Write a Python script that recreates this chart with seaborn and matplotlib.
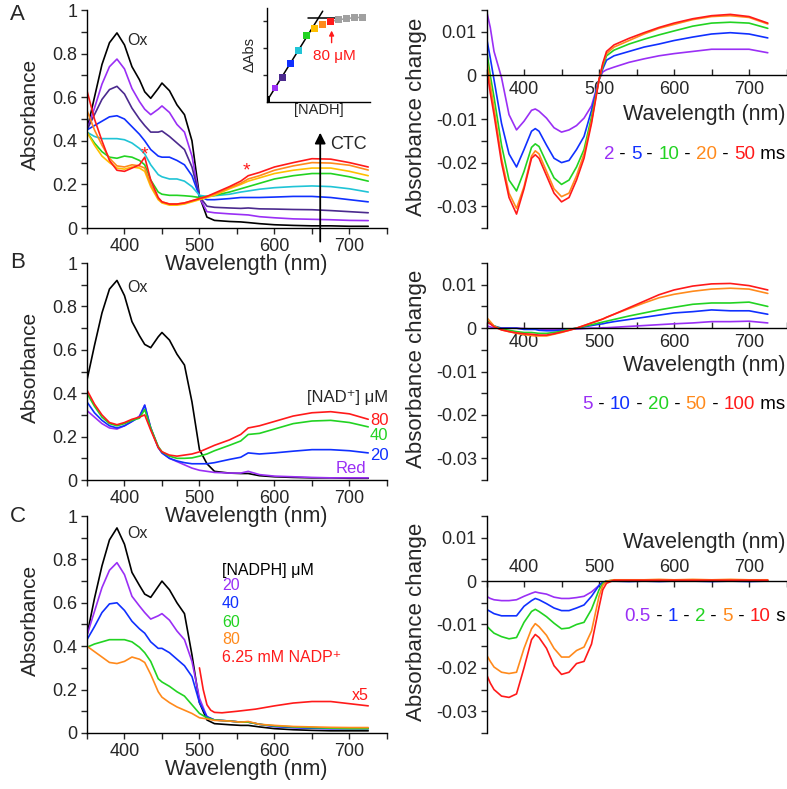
import numpy as np
import pandas as pd
import matplotlib
matplotlib.use("Agg")
import matplotlib.pyplot as plt
import seaborn as sns
from matplotlib.ticker import MultipleLocator, FuncFormatter

# colours used in the figure
BLACK = "#000000"
PURPLE = "#9a2ff5"
INDIGO = "#4b2a8e"
BLUE = "#1030ff"
CYAN = "#20c4d6"
GREEN = "#22d322"
YELLOW = "#ffbf00"
ORANGE = "#ff8a1c"
RED = "#ff1a1a"
GRAY = "#a0a0a0"

# ---------------- data ----------------
wl_left = [350, 360, 370, 380, 390, 400, 410, 420, 427, 435, 445, 450, 460, 470, 480,
           490, 500, 510, 520, 540, 555, 565, 580, 600, 625, 650, 675, 700, 725]

# A: NADH titration
a_ox = [0.45, 0.60, 0.75, 0.85, 0.895, 0.84, 0.74, 0.68, 0.625, 0.595, 0.64, 0.665, 0.63, 0.565, 0.52,
        0.40, 0.145, 0.05, 0.035, 0.03, 0.028, 0.025, 0.02, 0.015, 0.012, 0.01, 0.01, 0.008, 0.008]
a_10 = [0.45, 0.55, 0.66, 0.74, 0.775, 0.73, 0.64, 0.58, 0.545, 0.52, 0.545, 0.56, 0.53, 0.475, 0.44,
        0.33, 0.14, 0.075, 0.07, 0.065, 0.062, 0.06, 0.052, 0.047, 0.042, 0.04, 0.038, 0.035, 0.034]
a_20 = [0.45, 0.52, 0.59, 0.635, 0.65, 0.615, 0.55, 0.50, 0.47, 0.44, 0.44, 0.445, 0.42, 0.39, 0.36,
        0.28, 0.145, 0.10, 0.095, 0.092, 0.09, 0.092, 0.088, 0.087, 0.085, 0.084, 0.08, 0.075, 0.07]
a_30 = [0.45, 0.47, 0.49, 0.51, 0.515, 0.50, 0.465, 0.43, 0.40, 0.36, 0.33, 0.325, 0.325, 0.31, 0.29,
        0.24, 0.145, 0.13, 0.13, 0.135, 0.14, 0.14, 0.14, 0.142, 0.145, 0.145, 0.14, 0.13, 0.12]
a_40 = [0.44, 0.42, 0.41, 0.41, 0.41, 0.405, 0.39, 0.365, 0.34, 0.29, 0.245, 0.235, 0.225, 0.225, 0.215,
        0.19, 0.15, 0.145, 0.148, 0.155, 0.165, 0.17, 0.178, 0.185, 0.19, 0.193, 0.19, 0.18, 0.165]
a_50 = [0.44, 0.39, 0.35, 0.325, 0.32, 0.33, 0.325, 0.31, 0.29, 0.22, 0.165, 0.155, 0.15, 0.15, 0.148,
        0.145, 0.14, 0.145, 0.15, 0.165, 0.18, 0.19, 0.205, 0.225, 0.24, 0.25, 0.25, 0.235, 0.215]
a_60 = [0.44, 0.38, 0.33, 0.30, 0.275, 0.27, 0.28, 0.275, 0.26, 0.19, 0.13, 0.115, 0.105, 0.105, 0.11,
        0.12, 0.13, 0.14, 0.15, 0.18, 0.20, 0.215, 0.23, 0.25, 0.265, 0.275, 0.275, 0.26, 0.24]
a_70 = [0.54, 0.45, 0.38, 0.32, 0.285, 0.28, 0.29, 0.285, 0.275, 0.20, 0.135, 0.12, 0.11, 0.11, 0.115,
        0.125, 0.135, 0.145, 0.155, 0.185, 0.205, 0.225, 0.24, 0.265, 0.285, 0.30, 0.298, 0.288, 0.266]
a_80 = [0.63, 0.50, 0.40, 0.31, 0.265, 0.26, 0.275, 0.29, 0.325, 0.22, 0.14, 0.12, 0.11, 0.11, 0.115,
        0.125, 0.135, 0.145, 0.16, 0.19, 0.215, 0.24, 0.255, 0.28, 0.30, 0.318, 0.316, 0.30, 0.28]

# inset of A
nadh_conc = [0, 10, 20, 30, 40, 50, 60, 70, 80, 90, 100, 110, 120]
nadh_dabs = [0.009, 0.051, 0.091, 0.144, 0.191, 0.248, 0.273, 0.289, 0.299, 0.306, 0.31, 0.314, 0.315]

# B: NAD+ added to reduced enzyme
b_ox = [0.46, 0.62, 0.77, 0.88, 0.92, 0.85, 0.73, 0.665, 0.625, 0.61, 0.66, 0.68, 0.645, 0.58, 0.53,
        0.36, 0.14, 0.075, 0.04, 0.032, 0.03, 0.03, 0.02, 0.015, 0.012, 0.01, 0.01, 0.008, 0.008]
b_red = [0.32, 0.29, 0.26, 0.24, 0.235, 0.25, 0.27, 0.295, 0.345, 0.24, 0.15, 0.125, 0.10, 0.085, 0.07,
         0.055, 0.045, 0.04, 0.035, 0.032, 0.032, 0.04, 0.025, 0.018, 0.015, 0.012, 0.01, 0.01, 0.01]
b_20 = [0.36, 0.31, 0.275, 0.25, 0.24, 0.25, 0.27, 0.29, 0.345, 0.24, 0.15, 0.125, 0.10, 0.088, 0.08,
        0.075, 0.075, 0.075, 0.08, 0.095, 0.105, 0.125, 0.12, 0.125, 0.133, 0.14, 0.14, 0.135, 0.125]
b_40 = [0.40, 0.34, 0.29, 0.26, 0.25, 0.26, 0.275, 0.285, 0.325, 0.24, 0.155, 0.13, 0.11, 0.10, 0.10,
        0.102, 0.11, 0.12, 0.135, 0.16, 0.18, 0.21, 0.215, 0.235, 0.26, 0.272, 0.275, 0.265, 0.245]
b_80 = [0.415, 0.35, 0.30, 0.265, 0.255, 0.265, 0.28, 0.29, 0.30, 0.23, 0.15, 0.13, 0.115, 0.11, 0.115,
        0.12, 0.13, 0.145, 0.16, 0.185, 0.21, 0.24, 0.25, 0.27, 0.295, 0.31, 0.315, 0.305, 0.28]

# C: NADPH titration
c_ox = [0.45, 0.62, 0.77, 0.89, 0.945, 0.87, 0.74, 0.68, 0.64, 0.625, 0.675, 0.70, 0.66, 0.60, 0.55,
        0.36, 0.14, 0.06, 0.043, 0.038, 0.035, 0.035, 0.028, 0.02, 0.015, 0.012, 0.01, 0.01, 0.01]
c_20 = [0.45, 0.56, 0.67, 0.75, 0.785, 0.73, 0.63, 0.585, 0.555, 0.525, 0.54, 0.55, 0.52, 0.47, 0.43,
        0.33, 0.16, 0.075, 0.06, 0.055, 0.05, 0.05, 0.04, 0.03, 0.025, 0.022, 0.02, 0.02, 0.02]
c_40 = [0.43, 0.49, 0.555, 0.595, 0.60, 0.565, 0.515, 0.48, 0.46, 0.42, 0.39, 0.39, 0.37, 0.34, 0.31,
        0.26, 0.14, 0.075, 0.06, 0.055, 0.05, 0.05, 0.04, 0.03, 0.025, 0.022, 0.02, 0.02, 0.02]
c_60 = [0.395, 0.41, 0.42, 0.43, 0.43, 0.43, 0.42, 0.395, 0.37, 0.33, 0.25, 0.235, 0.215, 0.19, 0.17,
        0.13, 0.09, 0.07, 0.06, 0.055, 0.05, 0.05, 0.04, 0.033, 0.028, 0.025, 0.022, 0.02, 0.02]
c_80 = [0.40, 0.375, 0.35, 0.325, 0.32, 0.33, 0.35, 0.34, 0.325, 0.27, 0.19, 0.165, 0.14, 0.12, 0.105,
        0.09, 0.07, 0.065, 0.058, 0.055, 0.05, 0.053, 0.04, 0.035, 0.03, 0.028, 0.026, 0.025, 0.025]
wl_x5 = [500, 505, 510, 515, 520, 530, 550, 575, 600, 625, 650, 675, 700, 725]
c_nadp_x5 = [0.30, 0.20, 0.13, 0.105, 0.095, 0.093, 0.10, 0.11, 0.125, 0.138, 0.145, 0.145, 0.135, 0.125]

# difference spectra (right column)
wl_right = [350, 355, 360, 370, 380, 390, 400, 410, 415, 420, 430, 440, 450, 460, 470,
            480, 490, 500, 505, 510, 520, 540, 560, 580, 600, 625, 650, 675, 700, 725]

ar_2 = [0.0149, 0.011, 0.0055, -0.0005, -0.009, -0.0125, -0.0105, -0.008, -0.0077, -0.0082,
        -0.0098, -0.012, -0.013, -0.0125, -0.0115, -0.0098, -0.007, -0.001, 0.0008, 0.0013,
        0.0019, 0.003, 0.0038, 0.0045, 0.005, 0.0055, 0.006, 0.006, 0.006, 0.0052]
ar_5 = [0.0087, 0.004, -0.001, -0.011, -0.018, -0.021, -0.017, -0.0128, -0.0122, -0.0128,
        -0.016, -0.019, -0.020, -0.0195, -0.017, -0.014, -0.008, -0.001, 0.0015, 0.0035,
        0.0045, 0.0055, 0.0065, 0.0072, 0.008, 0.0088, 0.0095, 0.0098, 0.0095, 0.0086]
ar_10 = [0.006, 0.0, -0.005, -0.016, -0.024, -0.0265, -0.022, -0.0165, -0.0157, -0.0163,
         -0.02, -0.0235, -0.025, -0.024, -0.021, -0.017, -0.0095, -0.001, 0.002, 0.0045,
         0.0058, 0.0072, 0.0083, 0.0093, 0.0102, 0.0113, 0.012, 0.0122, 0.012, 0.0108]
ar_20 = [0.004, -0.002, -0.0075, -0.019, -0.027, -0.0305, -0.0255, -0.0185, -0.0173, -0.018,
         -0.022, -0.026, -0.0278, -0.027, -0.023, -0.018, -0.0105, -0.001, 0.0025, 0.005,
         0.0065, 0.008, 0.0095, 0.0108, 0.0117, 0.0128, 0.0135, 0.0137, 0.0133, 0.0118]
ar_50 = [0.002, -0.004, -0.009, -0.02, -0.028, -0.0318, -0.026, -0.019, -0.0182, -0.019,
         -0.023, -0.027, -0.029, -0.028, -0.024, -0.019, -0.011, -0.001, 0.0028, 0.0055,
         0.007, 0.0085, 0.0098, 0.011, 0.012, 0.013, 0.0137, 0.014, 0.0135, 0.012]

br_5 = [0.0005, 0.0003, 0.0, 0.0, 0.0, 0.0, -0.0001, -0.0002, -0.0002, -0.0002,
        -0.0003, -0.0003, -0.0003, -0.0003, -0.0002, -0.0001, 0.0, 0.0, 0.0001, 0.0001,
        0.0002, 0.0004, 0.0006, 0.0008, 0.001, 0.0012, 0.0015, 0.0015, 0.0016, 0.0012]
br_10 = [0.0015, 0.001, 0.0005, 0.0, 0.0, 0.0, -0.0003, -0.0003, -0.0003, -0.0005,
         -0.0006, -0.0006, -0.0005, -0.0003, 0.0, 0.0003, 0.0006, 0.0009, 0.001, 0.0012,
         0.0015, 0.002, 0.0025, 0.003, 0.0035, 0.0038, 0.0042, 0.004, 0.004, 0.0032]
br_20 = [0.0018, 0.0012, 0.0005, -0.0002, -0.0005, -0.0008, -0.001, -0.001, -0.0011, -0.0012,
         -0.0012, -0.001, -0.0007, -0.0003, 0.0, 0.0004, 0.0008, 0.0012, 0.0014, 0.0016,
         0.002, 0.0028, 0.0035, 0.0042, 0.0048, 0.0055, 0.0058, 0.0058, 0.006, 0.005]
br_50 = [0.0025, 0.0015, 0.0005, -0.0004, -0.0008, -0.0012, -0.0015, -0.0017, -0.0018, -0.0018,
         -0.0018, -0.0014, -0.001, -0.0005, 0.0, 0.0006, 0.0012, 0.0018, 0.0021, 0.0025,
         0.0032, 0.0045, 0.0058, 0.007, 0.0078, 0.0085, 0.009, 0.0092, 0.009, 0.008]
br_100 = [0.0015, 0.001, 0.0003, -0.0004, -0.0008, -0.0011, -0.0013, -0.0014, -0.0015, -0.0016,
          -0.0016, -0.0013, -0.0009, -0.0005, 0.0, 0.0006, 0.0012, 0.0018, 0.0021, 0.0025,
          0.0032, 0.0047, 0.0062, 0.0077, 0.0088, 0.0097, 0.0102, 0.0103, 0.0098, 0.0088]

cr_05 = [-0.0035, -0.004, -0.0043, -0.0045, -0.0045, -0.0043, -0.0035, -0.0028, -0.0025, -0.0027,
         -0.003, -0.0037, -0.004, -0.004, -0.0038, -0.0035, -0.0025, -0.001, -0.0003, 0.0,
         0.0002, 0.0, 0.0001, 0.0, 0.0001, 0.0, 0.0001, 0.0, 0.0, 0.0]
cr_1 = [-0.0065, -0.007, -0.0075, -0.008, -0.008, -0.008, -0.0058, -0.0045, -0.004, -0.0043,
        -0.0052, -0.0062, -0.0068, -0.0068, -0.0062, -0.0055, -0.0035, -0.001, -0.0003, 0.0,
        0.0, -0.0001, 0.0, -0.0001, 0.0, 0.0, -0.0001, 0.0, -0.0001, 0.0]
cr_2 = [-0.0103, -0.0112, -0.012, -0.0128, -0.0133, -0.013, -0.0095, -0.007, -0.0065, -0.007,
        -0.0082, -0.0097, -0.011, -0.0108, -0.01, -0.0095, -0.0065, -0.002, -0.0005, 0.0,
        0.0002, 0.0001, 0.0002, 0.0001, 0.0002, 0.0001, 0.0002, 0.0001, 0.0002, 0.0001]
cr_5 = [-0.017, -0.0185, -0.0198, -0.021, -0.0213, -0.021, -0.0155, -0.011, -0.0098, -0.0105,
        -0.0125, -0.0155, -0.0175, -0.0175, -0.016, -0.0152, -0.0115, -0.0035, -0.001, 0.0,
        0.0003, 0.0003, 0.0003, 0.0004, 0.0003, 0.0004, 0.0003, 0.0004, 0.0003, 0.0003]
cr_10 = [-0.0215, -0.0235, -0.025, -0.0265, -0.0268, -0.026, -0.02, -0.0135, -0.0123, -0.013,
         -0.0155, -0.0195, -0.0215, -0.021, -0.019, -0.0185, -0.0145, -0.006, -0.002, -0.0005,
         0.0002, 0.0002, 0.0002, 0.0002, 0.0002, 0.0002, 0.0002, 0.0002, 0.0002, 0.0002]

# ---------------- style ----------------
sns.set_style("ticks")
plt.rcParams["font.family"] = ["Liberation Sans", "DejaVu Sans"]
plt.rcParams["axes.unicode_minus"] = False
plt.rcParams["axes.linewidth"] = 1.0
plt.rcParams["axes.edgecolor"] = "black"
plt.rcParams["axes.facecolor"] = "none"

LW = 1.2


def draw_curves(ax, wl, series):
    # series: list of (name, values, colour)
    frames = []
    for name, vals, col in series:
        frames.append(pd.DataFrame({"wl": wl, "val": vals, "name": name}))
    df = pd.concat(frames, ignore_index=True)
    pal = {name: col for name, vals, col in series}
    sns.lineplot(data=df, x="wl", y="val", hue="name", palette=pal, estimator=None,
                 sort=False, legend=False, lw=LW, ax=ax)
    ax.set_xlabel("")
    ax.set_ylabel("")


def fmt(v, pos):
    return f"{round(v, 4) + 0:g}"


def style_left(ax):
    ax.set_xlim(350, 750)
    ax.set_ylim(0, 1)
    ax.xaxis.set_major_locator(MultipleLocator(100))
    ax.xaxis.set_minor_locator(MultipleLocator(50))
    ax.yaxis.set_major_locator(MultipleLocator(0.2))
    ax.yaxis.set_minor_locator(MultipleLocator(0.1))
    ax.yaxis.set_major_formatter(FuncFormatter(fmt))
    ax.tick_params(which="both", direction="out", length=4, width=1, labelsize=13, pad=3)
    sns.despine(ax=ax)
    ax.text(-0.19, 0.52, "Absorbance", rotation=90, ha="center", va="center",
            fontsize=15, transform=ax.transAxes)
    ax.text(0.53, -0.168, "Wavelength (nm)", ha="center", va="center",
            fontsize=15.5, transform=ax.transAxes)


def style_right(ax, labels_on_top=False):
    ax.set_xlim(350, 750)
    ax.set_ylim(-0.035, 0.015)
    ax.xaxis.set_major_locator(MultipleLocator(100))
    ax.xaxis.set_minor_locator(MultipleLocator(50))
    ax.yaxis.set_major_locator(MultipleLocator(0.01))
    ax.yaxis.set_minor_locator(MultipleLocator(0.005))
    ax.yaxis.set_major_formatter(FuncFormatter(fmt))
    ax.spines["right"].set_visible(False)
    if labels_on_top:
        ax.spines["bottom"].set_visible(False)
        ax.spines["top"].set_position(("data", 0))
        ax.xaxis.set_ticks_position("top")
    else:
        ax.spines["top"].set_visible(False)
        ax.spines["bottom"].set_position(("data", 0))
    ax.tick_params(axis="x", which="both", direction="in", length=4, width=1, labelsize=13, pad=4)
    ax.tick_params(axis="y", which="both", direction="out", length=4, width=1, labelsize=13, pad=3)
    ax.text(-0.235, 0.51, "Absorbance change", rotation=90, ha="center", va="center",
            fontsize=16, transform=ax.transAxes)


def color_row(ax, x, y, pieces, size=13.5):
    # build a row of coloured words ending at x (axes fraction)
    prev = None
    for txt, col in reversed(pieces):
        if prev is None:
            prev = ax.text(x, y, txt, color=col, fontsize=size, ha="right", va="center",
                           transform=ax.transAxes)
        else:
            prev = ax.annotate(txt, xy=(0, 0), xycoords=prev, ha="right", va="bottom",
                               color=col, fontsize=size)


fig = plt.figure(figsize=(7.87, 7.89), dpi=100)

LX, RX, W = 0.1105, 0.6182, 0.3812
rows = [(0.7110, 0.2763), (0.3916, 0.2750), (0.0710, 0.2750)]

# ---------------- A left ----------------
axA = fig.add_axes([LX, rows[0][0], W, rows[0][1]])
draw_curves(axA, wl_left, [("ox", a_ox, BLACK), ("10", a_10, PURPLE), ("20", a_20, INDIGO),
                           ("30", a_30, BLUE), ("40", a_40, CYAN), ("50", a_50, GREEN),
                           ("60", a_60, YELLOW), ("70", a_70, ORANGE), ("80", a_80, RED)])
style_left(axA)
axA.text(404, 0.862, "Ox", fontsize=11.5, va="center")
axA.text(427, 0.335, "*", color=RED, fontsize=14, ha="center", va="center")
axA.text(563, 0.26, "*", color=RED, fontsize=14, ha="center", va="center")
axA.annotate("", xy=(661, 0.45), xytext=(661, -0.075),
             arrowprops=dict(arrowstyle="-|>", color="black", lw=1.3, mutation_scale=16),
             annotation_clip=False)
axA.text(674, 0.385, "CTC", fontsize=13, va="center")

# inset
axI = fig.add_axes([0.3393, 0.8711, 0.1309, 0.1188])
ins = pd.DataFrame({"conc": nadh_conc, "dabs": nadh_dabs})
ins_cols = [BLACK, PURPLE, INDIGO, BLUE, CYAN, GREEN, YELLOW, ORANGE, RED, GRAY, GRAY, GRAY, GRAY]
slope, icpt = np.polyfit(nadh_conc[:6], nadh_dabs[:6], 1)
x_end = (0.338 - icpt) / slope
axI.plot([0, x_end], [icpt, icpt + slope * x_end], color="black", lw=1.1, zorder=1)
plateau = np.mean(nadh_dabs[9:])
axI.plot([52, 90], [plateau, plateau], color="black", lw=1.1, zorder=1)
sns.lineplot(data=ins.iloc[8:], x="conc", y="dabs", color=GRAY, lw=1.1, ax=axI, zorder=1)
sns.scatterplot(data=ins, x="conc", y="dabs", hue=ins.index.astype(str),
                palette=ins_cols, marker="s", s=24, linewidth=0, legend=False, ax=axI, zorder=3)
axI.set_xlim(0, 130)
axI.set_ylim(0, 0.35)
axI.set_xticks([])
axI.set_yticks([0.1, 0.2, 0.3])
axI.set_yticklabels([])
axI.tick_params(axis="y", direction="out", length=3, width=1)
sns.despine(ax=axI)
axI.set_xlabel("[NADH]", fontsize=10.5, labelpad=1)
axI.set_ylabel("ΔAbs", fontsize=10.5, labelpad=1)
axI.annotate("", xy=(81.5, 0.276), xytext=(81.5, 0.21),
             arrowprops=dict(arrowstyle="-|>", color=RED, lw=1, mutation_scale=7))
axI.text(85, 0.17, "80 μM", color=RED, fontsize=11, ha="center", va="center")

# ---------------- A right ----------------
axAr = fig.add_axes([RX, rows[0][0], W, rows[0][1]])
draw_curves(axAr, wl_right, [("2", ar_2, PURPLE), ("5", ar_5, BLUE), ("10", ar_10, GREEN),
                             ("20", ar_20, ORANGE), ("50", ar_50, RED)])
style_right(axAr)
axAr.text(0.995, 0.52, "Wavelength (nm)", ha="right", va="center", fontsize=15.5,
          transform=axAr.transAxes)
color_row(axAr, 0.995, 0.335, [("2", PURPLE), (" - ", BLACK), ("5", BLUE), (" - ", BLACK),
                                ("10", GREEN), (" - ", BLACK), ("20", ORANGE), (" - ", BLACK),
                                ("50", RED), (" ms", BLACK)])

# ---------------- B left ----------------
axB = fig.add_axes([LX, rows[1][0], W, rows[1][1]])
draw_curves(axB, wl_left, [("ox", b_ox, BLACK), ("red", b_red, PURPLE), ("20", b_20, BLUE),
                           ("40", b_40, GREEN), ("80", b_80, RED)])
style_left(axB)
axB.text(404, 0.889, "Ox", fontsize=11.5, va="center")
axB.text(752, 0.382, "[NAD⁺] μM", fontsize=12, ha="right", va="center")
axB.text(752, 0.276, "80", color=RED, fontsize=12, ha="right", va="center")
axB.text(752, 0.207, "40", color=GREEN, fontsize=12, ha="right", va="center")
axB.text(752, 0.115, "20", color=BLUE, fontsize=12, ha="right", va="center")
axB.text(723, 0.055, "Red", color=PURPLE, fontsize=12, ha="right", va="center")

# ---------------- B right ----------------
axBr = fig.add_axes([RX, rows[1][0], W, rows[1][1]])
draw_curves(axBr, wl_right, [("5", br_5, PURPLE), ("10", br_10, BLUE), ("20", br_20, GREEN),
                             ("50", br_50, ORANGE), ("100", br_100, RED)])
style_right(axBr)
axBr.text(0.995, 0.53, "Wavelength (nm)", ha="right", va="center", fontsize=15.5,
          transform=axBr.transAxes)
color_row(axBr, 0.995, 0.346, [("5", PURPLE), (" - ", BLACK), ("10", BLUE), (" - ", BLACK),
                                ("20", GREEN), (" - ", BLACK), ("50", ORANGE), (" - ", BLACK),
                                ("100", RED), (" ms", BLACK)])

# ---------------- C left ----------------
axC = fig.add_axes([LX, rows[2][0], W, rows[2][1]])
draw_curves(axC, wl_left, [("ox", c_ox, BLACK), ("20", c_20, PURPLE), ("40", c_40, BLUE),
                           ("60", c_60, GREEN), ("80", c_80, ORANGE)])
draw_curves(axC, wl_x5, [("x5", c_nadp_x5, RED)])
style_left(axC)
axC.text(404, 0.92, "Ox", fontsize=11.5, va="center")
c_lab = [("[NADPH] μM", BLACK, 0.751), ("20", PURPLE, 0.682), ("40", BLUE, 0.599),
         ("60", GREEN, 0.511), ("80", ORANGE, 0.429), ("6.25 mM NADP⁺", RED, 0.346)]
for txt, col, yy in c_lab:
    axC.text(530, yy, txt, color=col, fontsize=11.5, va="center")
axC.text(703, 0.175, "x5", color=RED, fontsize=11.5, va="center")

# ---------------- C right ----------------
axCr = fig.add_axes([RX, rows[2][0], W, rows[2][1]])
draw_curves(axCr, wl_right, [("0.5", cr_05, PURPLE), ("1", cr_1, BLUE), ("2", cr_2, GREEN),
                             ("5", cr_5, ORANGE), ("10", cr_10, RED)])
style_right(axCr, labels_on_top=True)
axCr.text(0.995, 0.876, "Wavelength (nm)", ha="right", va="center", fontsize=15.5,
          transform=axCr.transAxes)
color_row(axCr, 0.995, 0.535, [("0.5", PURPLE), (" - ", BLACK), ("1", BLUE), (" - ", BLACK),
                                ("2", GREEN), (" - ", BLACK), ("5", ORANGE), (" - ", BLACK),
                                ("10", RED), (" s", BLACK)])

# panel letters
fig.text(0.013, 1 - 14 / 789, "A", fontsize=16, va="center")
fig.text(0.013, 1 - 263 / 789, "B", fontsize=16, va="center")
fig.text(0.013, 1 - 517 / 789, "C", fontsize=16, va="center")

fig.savefig("out.png", dpi=100, facecolor="white")
plt.close(fig)
